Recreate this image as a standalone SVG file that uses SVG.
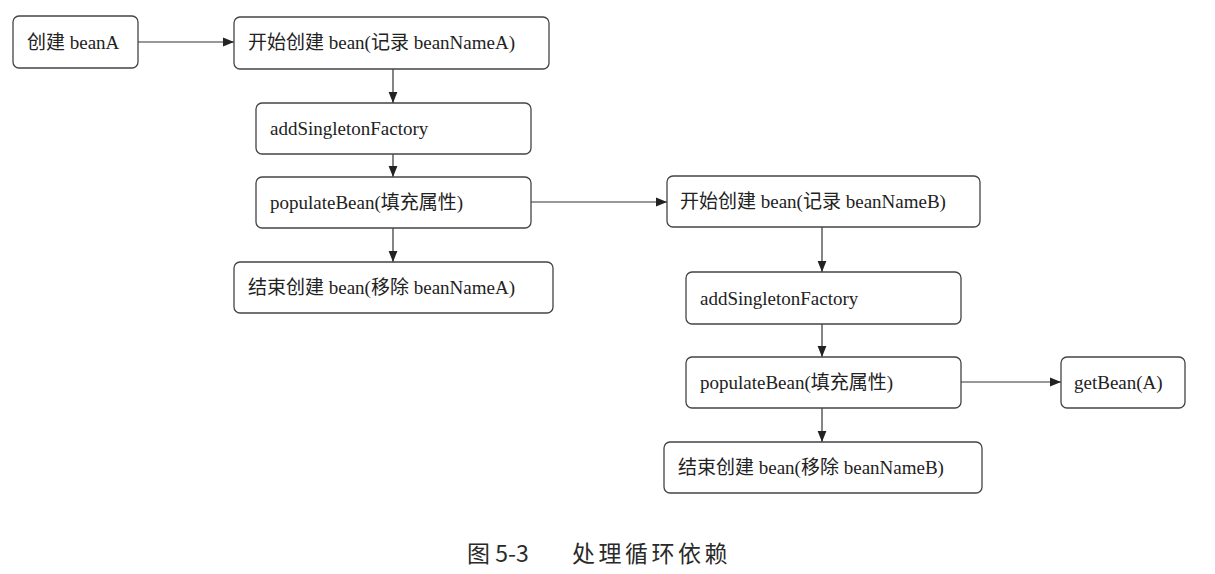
<svg xmlns="http://www.w3.org/2000/svg" width="1215" height="574" viewBox="0 0 1215 574">
<style>
.box{fill:#ffffff;stroke:#444444;stroke-width:1.3}
.lbl{font-family:"Liberation Serif","Noto Sans CJK SC",serif;font-size:19px;fill:#222222}
.edge{stroke:#333333;stroke-width:1.2;fill:none;marker-end:url(#arr)}
.cap{font-family:"Noto Sans CJK SC","Noto Sans",sans-serif;font-size:23px;fill:#2a2a2a}
</style>
<defs>
<marker id="arr" viewBox="0 0 10 10" refX="10" refY="5" markerWidth="11" markerHeight="11" markerUnits="userSpaceOnUse" orient="auto">
<path d="M0,1 L10,5 L0,9 Z" fill="#222222"/>
</marker>
</defs>
<rect width="1215" height="574" fill="#ffffff"/>
<g id="connectors">
<line class="edge" x1="138" y1="42" x2="234" y2="42"/>
<line class="edge" x1="393" y1="69" x2="393" y2="103"/>
<line class="edge" x1="393" y1="154" x2="393" y2="177"/>
<line class="edge" x1="393" y1="228" x2="393" y2="262"/>
<line class="edge" x1="531" y1="202" x2="667" y2="202"/>
<line class="edge" x1="822" y1="227" x2="822" y2="272"/>
<line class="edge" x1="822" y1="324" x2="822" y2="357"/>
<line class="edge" x1="961" y1="382" x2="1061" y2="382"/>
<line class="edge" x1="822" y1="408" x2="822" y2="442"/>
</g>
<g id="n1"><rect class="box" x="13" y="16" width="125" height="52" rx="6"/><text class="lbl" x="27" y="49">创建 beanA</text></g>
<g id="n2"><rect class="box" x="234" y="17" width="315" height="52" rx="6"/><text class="lbl" x="248" y="49">开始创建 bean(记录 beanNameA)</text></g>
<g id="n3"><rect class="box" x="256" y="103" width="275" height="51" rx="6"/><text class="lbl" x="270" y="135">addSingletonFactory</text></g>
<g id="n4"><rect class="box" x="256" y="177" width="275" height="51" rx="6"/><text class="lbl" x="270" y="209">populateBean(填充属性)</text></g>
<g id="n5"><rect class="box" x="234" y="262" width="319" height="51" rx="6"/><text class="lbl" x="248" y="294">结束创建 bean(移除 beanNameA)</text></g>
<g id="n6"><rect class="box" x="667" y="176" width="313" height="51" rx="6"/><text class="lbl" x="680" y="208">开始创建 bean(记录 beanNameB)</text></g>
<g id="n7"><rect class="box" x="686" y="272" width="275" height="52" rx="6"/><text class="lbl" x="700" y="305">addSingletonFactory</text></g>
<g id="n8"><rect class="box" x="686" y="357" width="275" height="51" rx="6"/><text class="lbl" x="700" y="389">populateBean(填充属性)</text></g>
<g id="n9"><rect class="box" x="1061" y="357" width="124" height="51" rx="6"/><text class="lbl" x="1074" y="389">getBean(A)</text></g>
<g id="n10"><rect class="box" x="664" y="442" width="318" height="51" rx="6"/><text class="lbl" x="678" y="474">结束创建 bean(移除 beanNameB)</text></g>
<text class="cap" x="467" y="562">图 5-3<tspan x="572" letter-spacing="3.5">处理循环依赖</tspan></text>
</svg>
